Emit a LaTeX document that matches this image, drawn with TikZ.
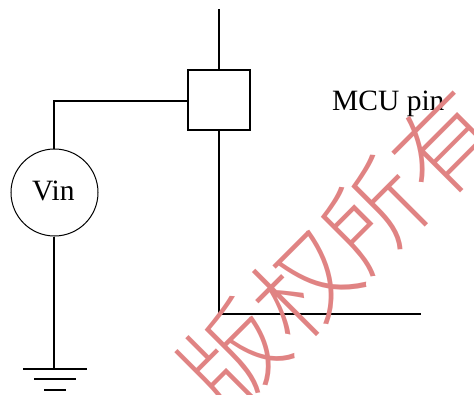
\documentclass[tikz,border=0pt]{standalone}
\usepackage{fontspec}
\setmainfont{Liberation Serif}
\newfontfamily\cjk[UprightFont=* Light]{Noto Sans CJK SC}
\definecolor{wm}{HTML}{E08383}
\tikzset{
  wire/.style={line width=2pt,black},
  label/.style={font=\fontsize{29.5}{32}\selectfont,inner sep=0pt,anchor=base west},
  mark text/.style={font=\cjk\fontsize{100}{100}\selectfont,text=wm,rotate=45,inner sep=0pt}
}
\begin{document}
\begin{tikzpicture}[x=1pt,y=-1pt]
\useasboundingbox (0,0) rectangle (474,394);
\clip (0,0) rectangle (474,394);
\coordinate (top) at (219,9);
\node[draw,wire,minimum width=62pt,minimum height=60pt,inner sep=0pt] (box) at (219,100) {};
\coordinate (corner) at (219,314);
\coordinate (right) at (421,314);
\coordinate (bend) at (54,101);
\node[draw,line width=1pt,circle,minimum size=87pt,inner sep=0pt] (vin) at (54.5,192.5) {};
\node[label] at (32,200) {Vin};
\node[label] at (332,110) {MCU pin};
\coordinate (gnd) at (54.5,369);
\coordinate (g1l) at (23,369);
\coordinate (g1r) at (87,369);
\coordinate (g2l) at (34,379);
\coordinate (g2r) at (76,379);
\coordinate (g3l) at (44,390);
\coordinate (g3r) at (66,390);
\draw[wire] (top) -- (box.north);
\draw[wire] (box.south) -- (corner) -- (right);
\draw[wire] (box.west |- bend) -- (bend) -- (bend |- vin.north);
\draw[wire] (bend |- vin.south) -- (bend |- gnd);
\draw[wire] (g1l) -- (g1r);
\draw[wire] (g2l) -- (g2r);
\draw[wire] (g3l) -- (g3r);
\node[mark text] (wmark) at (339,250) {版权所有};
\end{tikzpicture}
\end{document}
